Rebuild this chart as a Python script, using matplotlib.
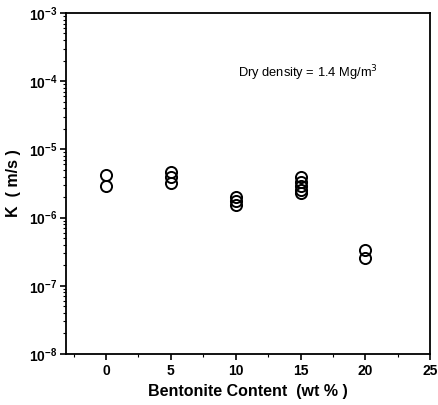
import matplotlib.pyplot as plt
import numpy as np
from matplotlib.ticker import LogLocator, MultipleLocator, FuncFormatter

plt.rcParams['font.family'] = ['Liberation Sans', 'DejaVu Sans']

# bentonite content (wt %) and hydraulic conductivity K (m/s)
bentonite = [0, 0,
             5, 5, 5,
             10, 10, 10,
             15, 15, 15, 15, 15,
             20, 20]
k_values = [4.2e-6, 2.95e-6,
            4.7e-6, 4.0e-6, 3.25e-6,
            2.03e-6, 1.75e-6, 1.51e-6,
            4.0e-6, 3.36e-6, 2.9e-6, 2.54e-6, 2.32e-6,
            3.35e-7, 2.58e-7]
x_ticks = [0, 5, 10, 15, 20, 25]

fig = plt.figure(figsize=(4.39, 4.05), dpi=100)
ax = fig.add_axes([0.150, 0.126, 0.830, 0.842])

ax.plot(bentonite, k_values, linestyle='none', marker='o', markersize=8,
        markerfacecolor='none', markeredgecolor='black', markeredgewidth=1.4)

ax.set_yscale('log')
ax.set_ylim(1e-8, 1e-3)
ax.set_xlim(-3.1, 25)
ax.set_xticks(x_ticks)
ax.xaxis.set_minor_locator(MultipleLocator(2.5))
ax.yaxis.set_major_locator(LogLocator(base=10, numticks=10))
ax.yaxis.set_minor_locator(LogLocator(base=10, subs=np.arange(2, 10), numticks=20))
ax.yaxis.set_minor_formatter(FuncFormatter(lambda v, p: ''))
ax.yaxis.set_major_formatter(FuncFormatter(lambda v, p: r'$\mathregular{10^{%d}}$' % int(round(np.log10(v)))))

ax.tick_params(which='major', direction='out', length=4, width=1.2, labelsize=10)
ax.tick_params(axis='y', which='major', pad=2)
ax.tick_params(which='minor', direction='out', length=2, width=0.8)
fig.canvas.draw()
for lab in ax.get_xticklabels() + ax.get_yticklabels():
    lab.set_fontweight('bold')
for s in ax.spines.values():
    s.set_linewidth(1.3)

ax.set_xlabel('Bentonite Content  (wt % )', fontsize=11.5, fontweight='bold')
ax.set_ylabel('K  ( m/s )', fontsize=11.5, fontweight='bold', labelpad=6)
ax.text(15.6, 1.3e-4, r'Dry density = 1.4 Mg/m$^3$', fontsize=9.3,
        ha='center', va='center')

fig.savefig('out.png', dpi=100)
